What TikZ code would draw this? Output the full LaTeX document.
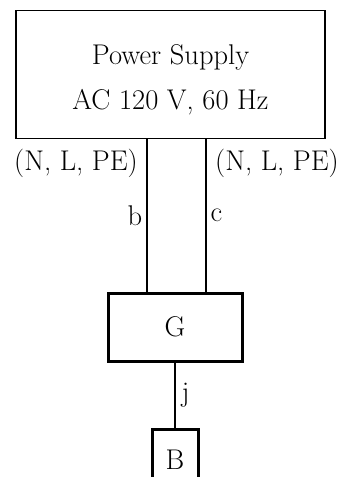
\documentclass[tikz,border=0pt]{standalone}
\begin{document}
\begin{tikzpicture}[x=1pt,y=1pt,
  every node/.style={font=\fontsize{28.5}{45}\selectfont},
  box/.style={draw,rectangle,inner sep=0pt,align=center},
  wire/.style={line width=1.4pt}]
\useasboundingbox (0,0) rectangle (347,-477);
\clip (0,0) rectangle (347,-477);
\node[box,line width=1.9pt,minimum width=309,minimum height=128] (ps) at (170.5,-74.5) {};
\node[align=center,inner sep=0pt] (pstext) at ([yshift=-5]ps.center) {Power Supply\\AC 120 V, 60 Hz};
\node[box,line width=3pt,minimum width=134,minimum height=68] (g) at (175,-327) {G};
\node[box,line width=3pt,minimum width=46,minimum height=60,anchor=north] (b) at (175,-428) {B};
\coordinate (bx) at (147,0);
\coordinate (cx) at (206,0);
\draw[wire] (ps.south -| bx) -- (g.north -| bx) node[midway,left,inner sep=4pt] {b};
\draw[wire] (ps.south -| cx) -- (g.north -| cx) node[midway,right,inner sep=4pt] {c};
\node[anchor=east,inner sep=0pt] (l1) at (138,-163) {(N, L, PE)};
\node[anchor=west,inner sep=0pt] (l2) at (215,-163) {(N, L, PE)};
\draw[wire] (g.south) -- (b.north) node[midway,right,inner sep=6pt] {j};
\end{tikzpicture}
\end{document}
